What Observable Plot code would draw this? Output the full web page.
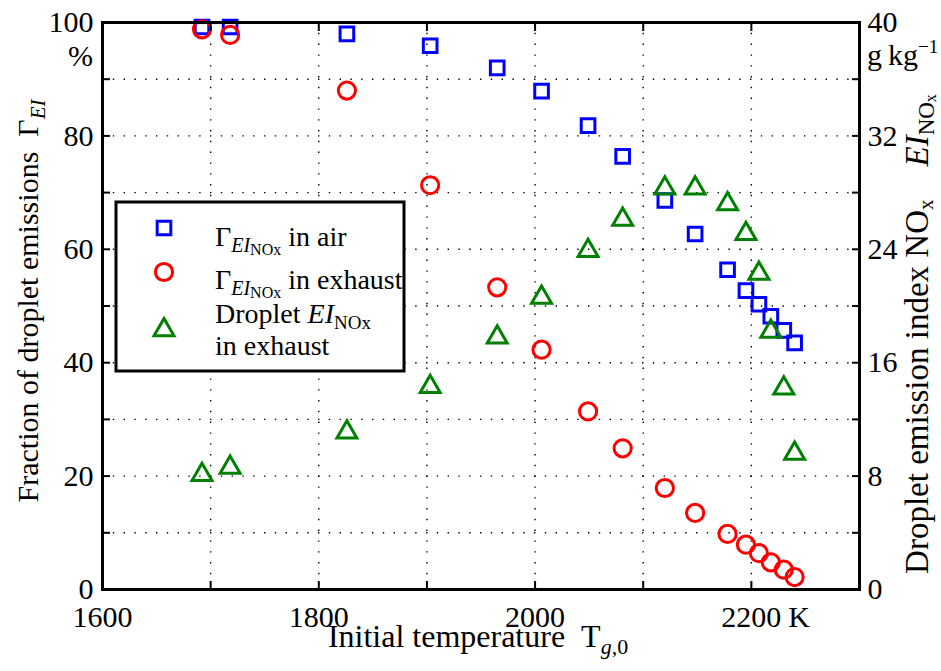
<!DOCTYPE html>
<html><head><meta charset="utf-8">
<script src="https://cdn.jsdelivr.net/npm/d3@7"></script>
<script src="https://cdn.jsdelivr.net/npm/@observablehq/plot@0.6"></script>
<style>body{margin:0;background:#fff} svg{display:block}</style>
</head><body><div id="chart"></div>
<script>
// ---- data ----
const temperatures = [1692, 1718, 1826, 1903, 1965, 2006, 2049, 2081, 2120, 2148, 2178, 2195, 2207, 2218, 2230, 2240];
const gammaAir     = [99.2, 99.2, 98.0, 95.9, 92.0, 87.9, 81.8, 76.4, 68.6, 62.7, 56.4, 52.7, 50.3, 48.2, 45.7, 43.5];
const gammaExhaust = [98.8, 97.8, 88.0, 71.3, 53.3, 42.3, 31.4, 24.9, 17.9, 13.5, 9.8, 7.9, 6.4, 4.8, 3.5, 2.2];
const dropletEI    = [8.1, 8.6, 11.1, 14.3, 17.8, 20.6, 23.9, 26.1, 28.3, 28.3, 27.2, 25.1, 22.3, 18.2, 14.2, 9.6]; // g/kg, right axis
const xTicks = [1600, 1700, 1800, 1900, 2000, 2100, 2200, 2300];
const xTickLabels = [1600, 1800, 2000, 2200];
const xUnit = [{t: 2200, label: "K"}];
const yTicks = [0, 10, 20, 30, 40, 50, 60, 70, 80, 90, 100];
const yTickLabels = [0, 20, 40, 60, 80, 100];
const eiMax = 40, percentMax = 100;   // right axis 0..40 maps onto left 0..100
const toPercent = v => v * percentMax / eiMax;

const air = temperatures.map((t, i) => ({t, v: gammaAir[i]}));
const exhaust = temperatures.map((t, i) => ({t, v: gammaExhaust[i]}));
const droplet = temperatures.map((t, i) => ({t, v: dropletEI[i]}));

const serif = "Liberation Serif, Times New Roman, serif";
const blue = "#0000ff", red = "#ff0000", green = "#008000";
const rSq = 7.7, rCi = 8.6, rTr = 7.4;
const grid = {stroke: "black", strokeOpacity: 1, strokeWidth: 1.4, strokeDasharray: "1.4,9.4"};
const tickOpts = {tickSize: -8, strokeWidth: 2, tickFormat: () => ""};

const chart = Plot.plot({
  width: 941, height: 671,
  marginLeft: 102, marginRight: 82, marginTop: 22, marginBottom: 82,
  style: {fontFamily: serif, fontSize: "30px", color: "black", background: "white", overflow: "visible"},
  x: {domain: [1600, 2300], label: null},
  y: {domain: [0, 100], label: null},
  marks: [
    Plot.gridX(xTicks.slice(1, -1), grid),
    Plot.gridY(yTicks.slice(1, -1), grid),
    Plot.dot(air, {x: "t", y: "v", symbol: "square", r: rSq, stroke: blue, strokeWidth: 3, fill: "none"}),
    Plot.dot(exhaust, {x: "t", y: "v", symbol: "circle", r: rCi, stroke: red, strokeWidth: 3, fill: "none"}),
    Plot.dot(droplet, {x: "t", y: d => toPercent(d.v), symbol: "triangle", r: rTr, stroke: green, strokeWidth: 3, fill: "none"}),
    Plot.frame({stroke: "black", strokeWidth: 3}),
    Plot.axisX(xTicks, {anchor: "bottom", ...tickOpts}),
    Plot.axisX(xTicks, {anchor: "top", ...tickOpts}),
    Plot.axisY(yTicks, {anchor: "left", ...tickOpts}),
    Plot.axisY(yTicks, {anchor: "right", ...tickOpts}),
    Plot.axisX(xTickLabels, {anchor: "bottom", tickSize: 0, tickPadding: 16, fontSize: 30, fontFamily: serif, tickFormat: d => String(d)}),
    Plot.axisY(yTickLabels, {anchor: "left", tickSize: 0, tickPadding: 9, fontSize: 30, fontFamily: serif, tickFormat: d => String(d)}),
    Plot.axisY(yTickLabels, {anchor: "right", tickSize: 0, tickPadding: 8, fontSize: 30, fontFamily: serif, tickFormat: d => String(d * eiMax / percentMax)}),
    Plot.text(xUnit, {x: "t", text: "label", frameAnchor: "bottom", textAnchor: "start", lineAnchor: "top", dx: 37, dy: 16, fontSize: 30, fontFamily: serif})
  ]
});
document.getElementById("chart").appendChild(chart);

// ---- titles, units and legend (rich text) ----
const svg = d3.select(chart);
function rich(g, parts) {
  parts.forEach(p => {
    const s = g.append("tspan").text(p.t);
    if (p.size) s.attr("font-size", p.size);
    if (p.it) s.attr("font-style", "italic");
    if (p.dy) s.attr("dy", p.dy);
  });
  return g;
}
const T = (x, y, size, anchor, rot) => svg.append("text")
  .attr("transform", `translate(${x},${y})` + (rot ? ` rotate(${rot})` : ""))
  .attr("font-family", serif).attr("font-size", size).attr("fill", "black")
  .attr("text-anchor", anchor);

rich(T(478, 647, 32, "middle"), [
  {t: "Initial temperature\u2002T"}, {t: "g", it: true, size: 22, dy: 7}, {t: ",0", size: 22}
]);
rich(T(38, 301, 30, "middle", -90), [
  {t: "Fraction of droplet emissions\u2002\u0393"}, {t: "EI", it: true, size: 21, dy: 7}
]);
rich(T(928, 334, 33, "middle", -90), [
  {t: "Droplet emission index NO"}, {t: "x", size: 21, dy: 5},
  {t: "\u2003", dy: -5}, {t: "EI", it: true}, {t: "NO", size: 23, dy: 6}, {t: "x", size: 16, dy: 2}
]);
T(93, 66, 30, "end").text("%");
rich(T(867, 65, 30, "start"), [{t: "g\u2009kg"}, {t: "\u22121", size: 19, dy: -12}]);

// legend
const lg = svg.append("g");
lg.append("rect").attr("x", 116).attr("y", 202).attr("width", 288).attr("height", 169)
  .attr("fill", "white").attr("stroke", "black").attr("stroke-width", 3);
const sym = (type, r, cx, cy, col) => lg.append("path")
  .attr("d", d3.symbol(type, Math.PI * r * r)()).attr("transform", `translate(${cx},${cy})`)
  .attr("fill", "none").attr("stroke", col).attr("stroke-width", 3);
sym(d3.symbolSquare, rSq, 164, 228, blue);
sym(d3.symbolCircle, rCi, 164, 272, red);
sym(d3.symbolTriangle, rTr, 164, 330, green);
const L = (y) => lg.append("text").attr("x", 215).attr("y", y).attr("font-family", serif)
  .attr("text-anchor", "start").attr("font-size", 28).attr("fill", "black");
rich(L(246), [{t: "\u0393"}, {t: "EI", it: true, size: 20, dy: 6}, {t: "NOx", size: 16, dy: 3}, {t: " in air", dy: -9}]);
rich(L(289), [{t: "\u0393"}, {t: "EI", it: true, size: 20, dy: 6}, {t: "NOx", size: 16, dy: 3}, {t: " in exhaust", dy: -9}]);
rich(L(323), [{t: "Droplet "}, {t: "EI", it: true}, {t: "NOx", size: 19, dy: 6}]);
rich(L(355), [{t: "in exhaust"}]);
</script></body></html>
